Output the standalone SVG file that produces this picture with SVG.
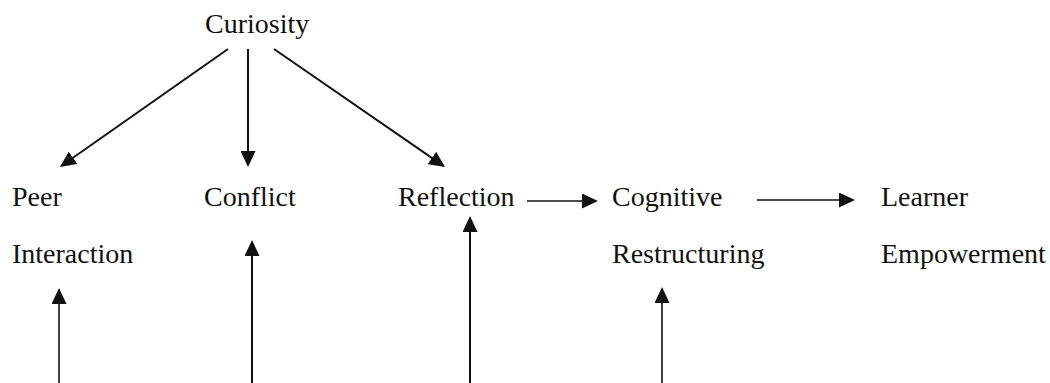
<svg xmlns="http://www.w3.org/2000/svg" width="1050" height="383" viewBox="0 0 1050 383">
<style>
.c line{stroke:#111;stroke-width:2;fill:none}
.c line.t{stroke-width:1.6}
</style>
<defs>
<marker id="ah" markerUnits="userSpaceOnUse" markerWidth="17" markerHeight="15" refX="14" refY="7.5" orient="auto">
<path d="M0,0 L16,7.5 L0,15 z" fill="#111"/>
</marker>
</defs>
<rect width="1050" height="383" fill="#fff"/>
<g font-family="Liberation Serif, Tinos, Times New Roman, DejaVu Serif, serif" font-size="28" fill="#111">
<g id="curiosity"><text x="205" y="33">Curiosity</text></g>
<g id="peer-interaction"><text x="12" y="206">Peer</text><text x="12" y="263">Interaction</text></g>
<g id="conflict"><text x="204" y="206">Conflict</text></g>
<g id="reflection"><text x="398" y="206">Reflection</text></g>
<g id="cognitive-restructuring"><text x="612" y="206">Cognitive</text><text x="612" y="263">Restructuring</text></g>
<g id="learner-empowerment"><text x="881" y="206">Learner</text><text x="881" y="263">Empowerment</text></g>
</g>
<g class="c" id="connectors">
<line x1="228" y1="49" x2="61.6" y2="165.8" marker-end="url(#ah)"/>
<line x1="248" y1="49" x2="248" y2="165" marker-end="url(#ah)"/>
<line x1="274" y1="49" x2="443.4" y2="165.9" marker-end="url(#ah)"/>
<line class="t" x1="527" y1="201" x2="596" y2="201" marker-end="url(#ah)"/>
<line class="t" x1="757" y1="200" x2="853" y2="200" marker-end="url(#ah)"/>
<line class="t" x1="59" y1="383" x2="59" y2="290" marker-end="url(#ah)"/>
<line x1="252" y1="383" x2="252" y2="242" marker-end="url(#ah)"/>
<line x1="470" y1="383" x2="470" y2="218" marker-end="url(#ah)"/>
<line class="t" x1="662" y1="383" x2="662" y2="289" marker-end="url(#ah)"/>
</g>
</svg>
